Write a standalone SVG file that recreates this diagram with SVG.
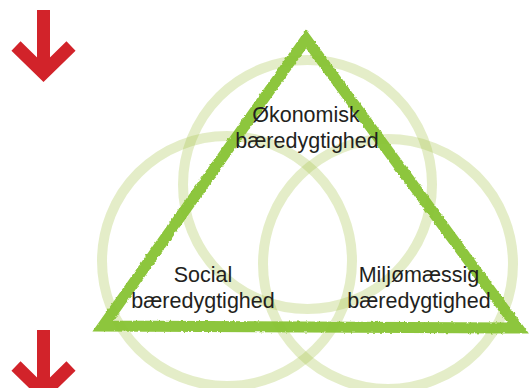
<svg xmlns="http://www.w3.org/2000/svg" width="530" height="388" viewBox="0 0 530 388">
<style>
.circ{fill:none;stroke:#a4c24a;stroke-opacity:0.3;stroke-width:10}
.arrow{fill:none;stroke:#d2232a;stroke-width:13;stroke-linejoin:miter;stroke-linecap:butt}
.lbl{font-family:"Liberation Sans",Arial,sans-serif;font-size:21.5px;fill:#231f20;text-anchor:middle}
</style>
<defs>
<filter id="rough" x="-5%" y="-5%" width="110%" height="110%">
<feTurbulence type="fractalNoise" baseFrequency="0.3" numOctaves="2" seed="3"/>
<feDisplacementMap in="SourceGraphic" scale="3" xChannelSelector="R" yChannelSelector="G"/>
</filter>
</defs>
<g id="circles">
<circle id="circle-top" class="circ" cx="307.5" cy="184.5" r="124.5"/>
<circle id="circle-left" class="circ" cx="227" cy="261" r="125"/>
<circle id="circle-right" class="circ" cx="388" cy="264" r="125"/>
</g>
<g id="triangle">
<polygon points="306,39 103,326 518,328" fill="none" stroke="#88c332" stroke-opacity="0.95" stroke-width="11" stroke-linejoin="miter" filter="url(#rough)"/>
</g>
<g id="arrow-top">
<path class="arrow" d="M43.5,10 V68 M16,46 L43.5,73 L71,46"/>
</g>
<g id="arrow-bottom">
<path class="arrow" d="M43.5,330 V388 M16,366 L43.5,393 L71,366"/>
</g>
<g id="node-oekonomisk">
<text class="lbl" x="306" y="122">Økonomisk</text>
<text class="lbl" x="307" y="148">bæredygtighed</text>
</g>
<g id="node-social">
<text class="lbl" x="203" y="282">Social</text>
<text class="lbl" x="203" y="308">bæredygtighed</text>
</g>
<g id="node-miljo">
<text class="lbl" x="419" y="282">Miljømæssig</text>
<text class="lbl" x="419" y="308">bæredygtighed</text>
</g>
</svg>
